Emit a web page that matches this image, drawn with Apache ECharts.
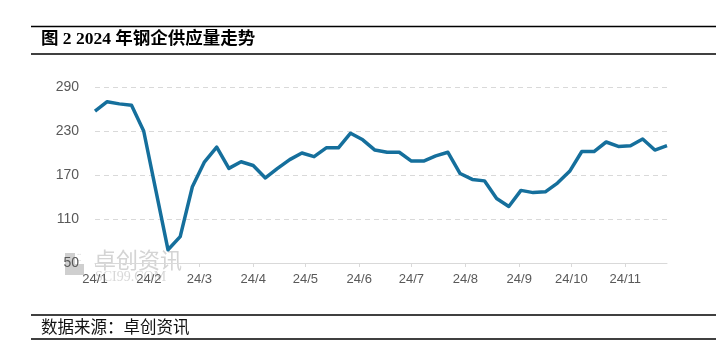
<!DOCTYPE html>
<html>
<head>
<meta charset="utf-8">
<script src="https://cdn.jsdelivr.net/npm/echarts@6/dist/echarts.min.js"></script>
<style>html,body{margin:0;padding:0;background:#fff}#c{width:727px;height:363px}</style>
</head>
<body>
<div id="c"></div>
<script>
// Weekly dates (2024) and supply values
const dates = ['2024-01-01','2024-01-08','2024-01-15','2024-01-22','2024-01-29','2024-02-05','2024-02-12','2024-02-19',
  '2024-02-26','2024-03-04','2024-03-11','2024-03-18','2024-03-25','2024-04-01','2024-04-08','2024-04-15',
  '2024-04-22','2024-04-29','2024-05-06','2024-05-13','2024-05-20','2024-05-27','2024-06-03','2024-06-10',
  '2024-06-17','2024-06-24','2024-07-01','2024-07-08','2024-07-15','2024-07-22','2024-07-29','2024-08-05',
  '2024-08-12','2024-08-19','2024-08-26','2024-09-02','2024-09-09','2024-09-16','2024-09-23','2024-09-30',
  '2024-10-07','2024-10-14','2024-10-21','2024-10-28','2024-11-04','2024-11-11','2024-11-18','2024-11-25'];
const supply = [257,270,267,265,230,149,68,86,
  154,188,208,179,188,183,166,179,
  191,200,195,207,207,227,218,204,
  201,201,189,189,196,201,172,164,
  162,138,127,149,146,147,159,175,
  202,202,215,209,210,219,204,210];
const monthStarts = ['2024-01-01','2024-02-01','2024-03-01','2024-04-01','2024-05-01','2024-06-01',
  '2024-07-01','2024-08-01','2024-09-01','2024-10-01','2024-11-01'];
const monthLabels = ['24/1','24/2','24/3','24/4','24/5','24/6','24/7','24/8','24/9','24/10','24/11'];
const yTicks = [50,110,170,230,290];
const title = '图 2 2024 年钢企供应量走势';
const source = '数据来源：卓创资讯';

const base = Date.parse(dates[0]);
const dayOf = s => Math.round((Date.parse(s) - base) / 86400000);
const seriesData = dates.map((d, i) => [dayOf(d), supply[i]]);
const monthDays = monthStarts.map(dayOf);
const labelMap = {};
monthDays.forEach((d, i) => { labelMap[d] = monthLabels[i]; });

const chart = echarts.init(document.getElementById('c'), null, {renderer: 'canvas'});
chart.setOption({
  animation: false,
  backgroundColor: '#fff',
  grid: {left: 95, right: 60, top: 87, bottom: 100, containLabel: false},
  xAxis: {
    type: 'value',
    min: 0,
    max: dayOf(dates[dates.length - 1]),
    splitLine: {show: false},
    axisLine: {show: true, lineStyle: {color: '#d9d9d9', width: 1}},
    axisTick: {show: true, customValues: monthDays, length: 4, lineStyle: {color: '#d9d9d9'}},
    axisLabel: {
      customValues: monthDays,
      formatter: v => labelMap[Math.round(v)] || '',
      color: '#595959', fontSize: 13, margin: 10,
      fontFamily: 'Liberation Sans, Arial, sans-serif'
    }
  },
  yAxis: {
    type: 'value',
    min: yTicks[0], max: yTicks[yTicks.length - 1], interval: 60,
    axisLine: {show: false},
    axisTick: {show: false},
    axisLabel: {color: '#595959', fontSize: 14, margin: 16, fontFamily: 'Liberation Sans, Arial, sans-serif'},
    splitLine: {show: true, lineStyle: {color: '#d9d9d9', type: [5, 4], width: 1}}
  },
  series: [{
    type: 'line',
    data: seriesData,
    showSymbol: false,
    symbol: 'none',
    lineStyle: {color: '#156f9c', width: 3.5, join: 'round'},
    z: 5
  }],
  graphic: [
    {type: 'line', shape: {x1: 31, y1: 26.5, x2: 716, y2: 26.5}, style: {stroke: '#000', lineWidth: 1.3}},
    {type: 'text', left: 41, top: 31, style: {text: title, fill: '#000', font: 'bold 17.5px "Liberation Serif", "Noto Sans CJK SC", serif'}},
    {type: 'line', shape: {x1: 31, y1: 54, x2: 716, y2: 54}, style: {stroke: '#000', lineWidth: 1.3}},
    {type: 'line', shape: {x1: 31, y1: 315, x2: 716, y2: 315}, style: {stroke: '#000', lineWidth: 1.3}},
    {type: 'text', left: 41, top: 318, style: {text: source, fill: '#111', font: '16.5px "Noto Sans CJK SC", sans-serif'}},
    {type: 'line', shape: {x1: 31, y1: 339, x2: 716, y2: 339}, style: {stroke: '#000', lineWidth: 1.3}},
    // watermark
    {type: 'rect', z: -1, shape: {x: 65, y: 253, width: 10, height: 22}, style: {fill: '#cfcfcf'}},
    {type: 'rect', z: -1, shape: {x: 75, y: 264, width: 9, height: 11}, style: {fill: '#cfcfcf'}},
    {type: 'text', z: -1, left: 77, top: 253, style: {text: '⁚⁚', fill: '#d8d8d8', font: '10px sans-serif'}},
    {type: 'text', z: -1, left: 94, top: 249, style: {text: '卓创资讯', fill: '#d4d4d4', font: '22px "Noto Sans CJK SC", sans-serif'}},
    {type: 'text', z: -1, left: 95, top: 270, style: {text: 'SCI99.COM', fill: '#d8d8d8', font: '14px "Liberation Serif", serif'}}
  ]
});
</script>
</body>
</html>
